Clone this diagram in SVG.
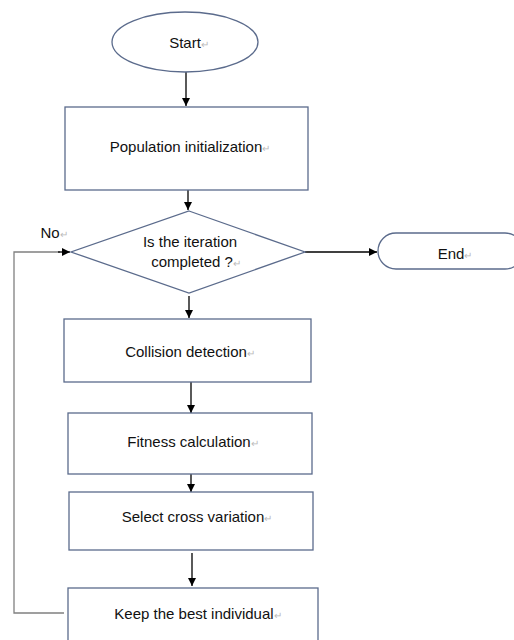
<svg xmlns="http://www.w3.org/2000/svg" width="514" height="640" viewBox="0 0 514 640">
<style>
.n{fill:#fff;stroke:#5b6b8c;stroke-width:1.3}
.t{font-family:"Liberation Sans",Arial,sans-serif;font-size:15px;fill:#111;text-anchor:middle}
.r{fill:#bbb;font-size:10px}
.c{stroke:#000;stroke-width:1.3;fill:none}
.g{stroke:#808080;stroke-width:1.3;fill:none}
</style>
<defs>
<marker id="a" viewBox="0 0 10 10" refX="10" refY="5" markerWidth="8" markerHeight="8" markerUnits="userSpaceOnUse" orient="auto">
<path d="M0,0L10,5L0,10z" fill="#000"/>
</marker>
</defs>
<rect width="514" height="640" fill="#fff"/>
<g id="connectors">
<line class="c" x1="186" y1="72" x2="186" y2="106" marker-end="url(#a)"/>
<line class="c" x1="188" y1="187" x2="188" y2="210" marker-end="url(#a)"/>
<line class="c" x1="305" y1="252" x2="377" y2="252" marker-end="url(#a)"/>
<line class="c" x1="189" y1="296" x2="189" y2="318" marker-end="url(#a)"/>
<line class="c" x1="191" y1="382" x2="191" y2="413" marker-end="url(#a)"/>
<line class="c" x1="191" y1="471" x2="191" y2="492" marker-end="url(#a)"/>
<line class="c" x1="192" y1="553" x2="192" y2="586" marker-end="url(#a)"/>
<polyline class="g" points="64,613 14,613 14,252 60,252"/>
<line class="c" x1="58" y1="252" x2="70" y2="252" marker-end="url(#a)"/>
<text class="t" x="54" y="238">No<tspan class="r">↵</tspan></text>
</g>
<g id="start">
<ellipse class="n" cx="185" cy="42" rx="73" ry="30"/>
<text class="t" x="189" y="48">Start<tspan class="r">↵</tspan></text>
</g>
<g id="init">
<rect class="n" x="65" y="107" width="243" height="83"/>
<text class="t" x="190" y="152">Population initialization<tspan class="r">↵</tspan></text>
</g>
<g id="decision">
<polygon class="n" points="189,211 305,252 189,293 71,252"/>
<text class="t" x="190" y="247">Is the iteration</text>
<text class="t" x="196" y="267">completed ?<tspan class="r">↵</tspan></text>
</g>
<g id="end">
<rect class="n" x="378" y="233" width="145" height="36" rx="18"/>
<text class="t" x="455" y="259">End<tspan class="r">↵</tspan></text>
</g>
<g id="collision">
<rect class="n" x="64" y="319" width="247" height="63"/>
<text class="t" x="190" y="357">Collision detection<tspan class="r">↵</tspan></text>
</g>
<g id="fitness">
<rect class="n" x="68" y="413" width="244" height="61"/>
<text class="t" x="193" y="447">Fitness calculation<tspan class="r">↵</tspan></text>
</g>
<g id="select">
<rect class="n" x="69" y="492" width="244" height="58"/>
<text class="t" x="197" y="522">Select cross variation<tspan class="r">↵</tspan></text>
</g>
<g id="keep">
<rect class="n" x="68" y="588" width="250" height="60"/>
<text class="t" x="198" y="619">Keep the best individual<tspan class="r">↵</tspan></text>
</g>
</svg>
